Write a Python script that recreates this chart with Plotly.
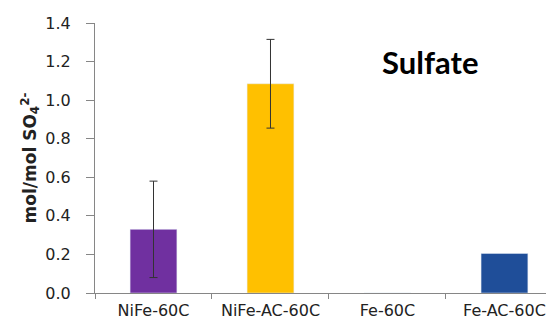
import plotly.graph_objects as go

categories = ["NiFe-60C", "NiFe-AC-60C", "Fe-60C", "Fe-AC-60C"]
values = [0.33, 1.085, 0.0, 0.205]
err_categories = ["NiFe-60C", "NiFe-AC-60C"]
err_values = [0.33, 1.085]
errors = [0.25, 0.23]
colors = ["#7030A0", "#FFC000", "#FFFFFF", "#1F4E99"]
y_ticks = [0.0, 0.2, 0.4, 0.6, 0.8, 1.0, 1.2, 1.4]

fig = go.Figure()
fig.add_trace(go.Bar(
    x=categories, y=values, marker_color=colors, width=0.4, showlegend=False,
))
fig.add_trace(go.Scatter(
    x=err_categories, y=err_values, mode="markers",
    marker=dict(size=1, color="rgba(0,0,0,0)"),
    error_y=dict(type="data", array=errors, visible=True, color="#333333",
                 thickness=1, width=4),
    showlegend=False, hoverinfo="skip",
))
fig.update_layout(
    width=546, height=321,
    margin=dict(l=95, r=0, t=23, b=28),
    plot_bgcolor="white", paper_bgcolor="white",
    font=dict(family="DejaVu Sans", size=15, color="#222222"),
    xaxis=dict(range=[-0.5, 3.355], showline=True, linecolor="#868686",
               ticks="outside", tickson="boundaries", ticklen=5, tickcolor="#868686",
               tickfont=dict(size=16), ticklabelstandoff=3, showgrid=False),
    yaxis=dict(range=[0, 1.4], tickvals=y_ticks, ticktext=[f"{v:.1f}" for v in y_ticks],
               showline=True, linecolor="#868686", ticks="outside", ticklen=8,
               tickcolor="#868686", showgrid=False, zeroline=False,
               tickfont=dict(size=16), ticklabelstandoff=12,
               title=dict(text="<b>mol/mol SO<sub>4</sub><sup>2-</sup></b>",
                          font=dict(family="DejaVu Sans", size=17), standoff=4)),
    annotations=[dict(text="<b>Sulfate</b>", x=(430 - 95) / (546 - 95),
                      y=(293 - 62) / (293 - 23), xref="paper", yref="paper",
                      xanchor="center", yanchor="middle",
                      showarrow=False, font=dict(family="Lato", size=31, color="black"))],
)
fig.write_html("out.html")
